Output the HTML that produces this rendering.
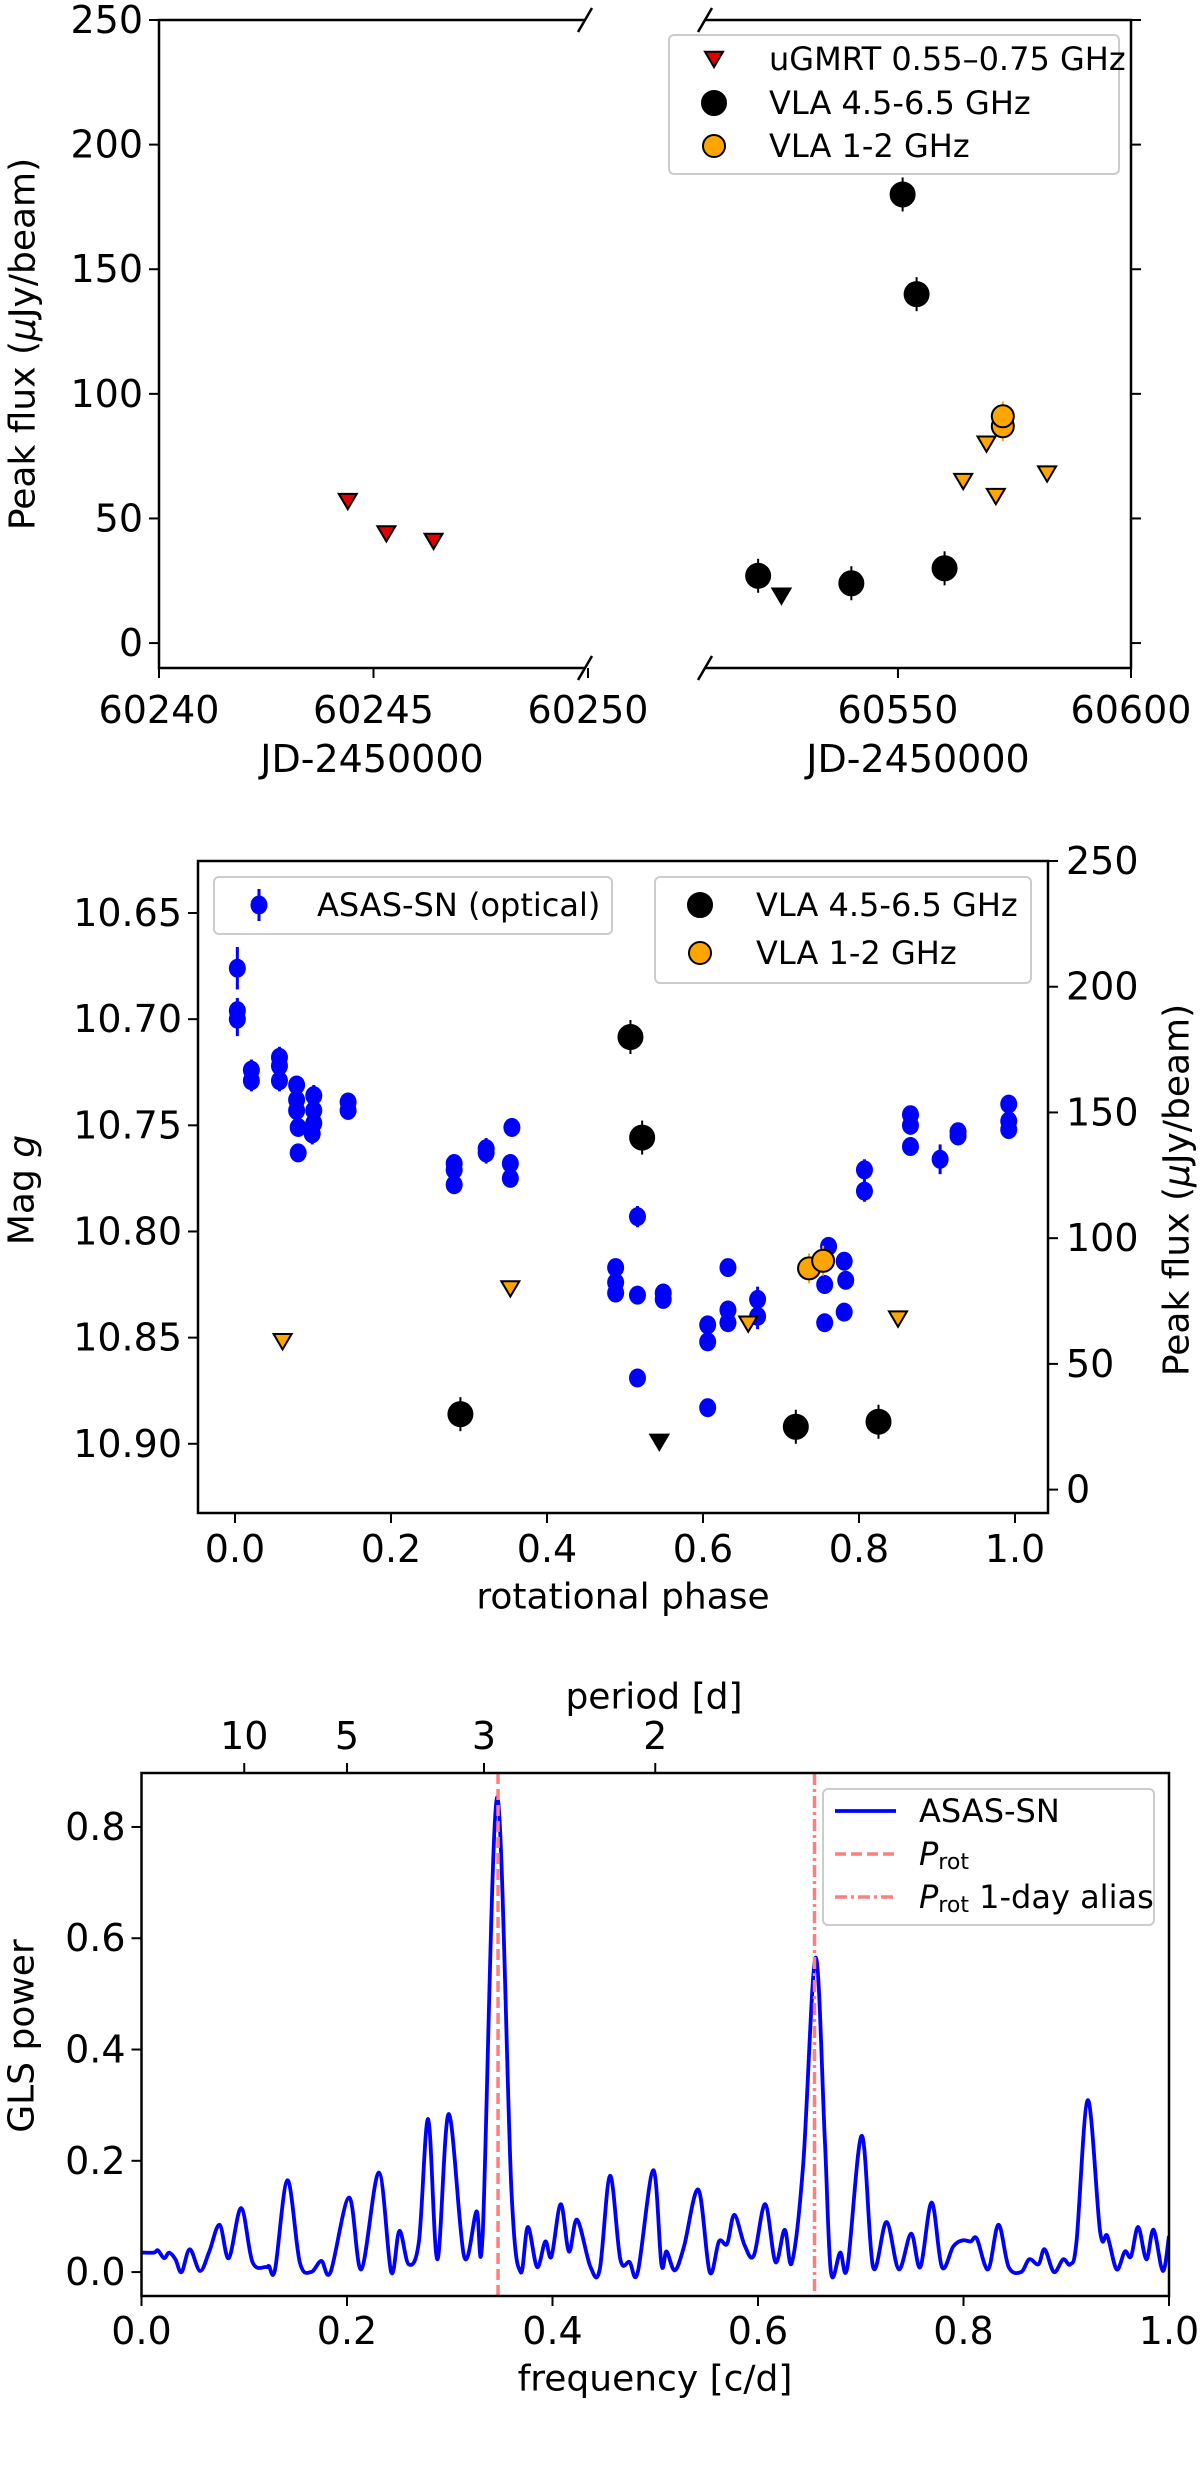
<!DOCTYPE html>
<html><head><meta charset="utf-8">
<style>
html,body{margin:0;padding:0;background:#fff;}
svg{display:block;font-family:"DejaVu Sans","Liberation Sans",sans-serif;}
</style></head>
<body>
<svg id="fig" xmlns="http://www.w3.org/2000/svg" width="1200" height="2467" viewBox="0 0 1200 2467"></svg>
<script>
// ---------- Panel 1 data ----------
const gmrtJD = [60244.4, 60245.3, 60246.4];
const gmrtFlux = [57, 44, 41];
const vlaCJD = [60520, 60540, 60551, 60554, 60560];
const vlaCFlux = [27, 24, 180, 140, 30];
const vlaCLimJD = [60525];
const vlaCLimFlux = [19];
const vlaLJD = [60572.5, 60572.5];
const vlaLFlux = [87, 91];
const vlaLLimJD = [60564, 60569, 60571, 60582];
const vlaLLimFlux = [65, 80, 59, 68];
const p1LeftTicks = [60240, 60245, 60250];
const p1RightTicks = [60550, 60600];
const p1YTicks = [0, 50, 100, 150, 200, 250];

// ---------- Panel 2 data ----------
const asasPhase = [0.003,0.003,0.003,0.021,0.021,0.057,0.057,0.057,0.079,0.079,0.079,0.081,0.081,0.101,0.101,0.101,0.099,0.145,0.145,0.281,0.281,0.281,0.322,0.322,0.355,0.353,0.353,0.488,0.488,0.488,0.516,0.516,0.516,0.549,0.549,0.606,0.606,0.606,0.632,0.632,0.632,0.670,0.670,0.761,0.756,0.756,0.781,0.783,0.781,0.807,0.807,0.866,0.866,0.866,0.904,0.927,0.927,0.992,0.992,0.992];
const asasMag = [10.676,10.696,10.700,10.724,10.729,10.718,10.722,10.729,10.731,10.738,10.743,10.751,10.763,10.736,10.743,10.749,10.754,10.739,10.743,10.768,10.771,10.778,10.761,10.763,10.751,10.768,10.775,10.817,10.824,10.829,10.793,10.830,10.869,10.829,10.832,10.844,10.852,10.883,10.817,10.837,10.843,10.832,10.840,10.807,10.825,10.843,10.814,10.823,10.838,10.771,10.781,10.745,10.750,10.760,10.766,10.753,10.755,10.740,10.748,10.752];
const asasErr = [0.01,0.006,0.008,0.005,0.005,0.005,0.005,0.005,0.004,0.004,0.004,0.004,0.004,0.005,0.005,0.005,0.005,0.004,0.004,0.004,0.004,0.004,0.005,0.005,0.004,0.004,0.004,0.004,0.004,0.004,0.005,0.004,0.004,0.004,0.004,0.004,0.004,0.004,0.004,0.004,0.004,0.006,0.006,0.004,0.004,0.004,0.004,0.004,0.004,0.005,0.005,0.004,0.004,0.004,0.007,0.004,0.004,0.004,0.004,0.004];
const phVlaCPhase = [0.507, 0.522, 0.289, 0.719, 0.825];
const phVlaCFlux = [180, 140, 30, 25, 27];
const phVlaCLimPhase = [0.544];
const phVlaCLimFlux = [19];
const phVlaLPhase = [0.736, 0.754];
const phVlaLFlux = [88, 91];
const phVlaLLimPhase = [0.061, 0.353, 0.658, 0.850];
const phVlaLLimFlux = [59, 80, 66, 68];
const p2XTicks = [0, 0.2, 0.4, 0.6, 0.8, 1.0];
const p2MagTicks = [10.65, 10.70, 10.75, 10.80, 10.85, 10.90];
const p2FluxTicks = [0, 50, 100, 150, 200, 250];

// ---------- Panel 3 data ----------
const glsFreq = [0,.012,.016,.022,.027,.033,.039,.047,.057,.066,.076,.085,.097,.108,.121,.124,.130,.142,.154,.165,.175,.184,.202,.214,.231,.243,.251,.260,.270,.279,.288,.299,.314,.326,.332,.346,.360,.369,.376,.385,.393,.399,.408,.416,.424,.437,.446,.456,.466,.475,.483,.498,.506,.511,.519,.528,.542,.553,.562,.570,.577,.587,.596,.607,.617,.626,.633,.644,.656,.665,.671,.680,.687,.701,.712,.725,.737,.749,.758,.769,.779,.790,.799,.807,.813,.824,.834,.844,.856,.864,.873,.879,.888,.897,.904,.910,.921,.933,.940,.949,.957,.963,.970,.978,.985,.994,1.0];
const glsPower = [.035,.035,.039,.025,.035,.023,0,.041,.002,.037,.085,.025,.115,.018,.009,.011,.005,.165,.018,0,.02,0,.134,.005,.179,0,.074,.014,.055,.275,.023,.284,.028,.109,.065,.853,.148,0,.081,.009,.055,.028,.122,.037,.094,.009,.005,.173,.023,.018,0,.183,.014,.037,.003,.046,.148,0,.055,.051,.103,.048,.030,.122,.018,.076,.017,.194,.565,.240,0,.035,.009,.245,.009,.090,.005,.069,.009,.125,.009,.046,.057,.055,.060,.005,.085,.009,0,.023,.014,.041,0,.023,.014,.055,.309,.072,.065,.005,.037,.028,.081,.023,.076,.002,.065];
const pRot = [0.347];
const pAlias = [0.655];
const p3XTicks = [0, 0.2, 0.4, 0.6, 0.8, 1.0];
const p3YTicks = [0, 0.2, 0.4, 0.6, 0.8];
const periodTicks = [10, 5, 3, 2];

const NS = "http://www.w3.org/2000/svg";
const svg = document.getElementById('fig');
function mk(tag, attrs, parent) {
  const e = document.createElementNS(NS, tag);
  for (const k in attrs) e.setAttribute(k, attrs[k]);
  (parent || svg).appendChild(e);
  return e;
}
function txt(s, x, y, size, anchor, parent, extra) {
  const t = mk('text', Object.assign({x: x, y: y, 'font-size': size, 'text-anchor': anchor || 'middle', 'dominant-baseline': 'central', fill: '#000'}, extra || {}), parent);
  t.textContent = s;
  return t;
}
const FS = 38;
const LW = 2.5;

function circle(g, x, y, r, fill, name) {
  const c = mk('circle', {cx: x, cy: y, r: r, fill: fill, stroke: '#000', 'stroke-width': 2}, g);
  
  
  return c;
}
function tri(g, x, y, s, fill, name) {
  const p = mk('path', {d: `M${x-s},${y-s*0.8} L${x+s},${y-s*0.8} L${x},${y+s*0.9} Z`, fill: fill, stroke: '#000', 'stroke-width': 2, 'stroke-linejoin': 'miter'}, g);
  
  
  return p;
}

// ================= PANEL 1 =================
(function(){
  const g = mk('g', {});
  
  
  const top = 20, bot = 668;
  const yMin = -10, yMax = 250;
  const sy = v => bot - (v - yMin) / (yMax - yMin) * (bot - top);
  const L0 = 159, L1 = 585, Lmin = 60240;
  const sxL = v => L0 + (v - Lmin) / (60250 - Lmin) * (588 - L0);
  const R0 = 705, R1 = 1131, Rmin = 60508.6, Rmax = 60600;
  const sxR = v => R0 + (v - Rmin) / (Rmax - Rmin) * (R1 - R0);
  mk('path', {d: `M${L1},${top} H${L0} V${bot} H${L1}`, fill: 'none', stroke: '#000', 'stroke-width': LW}, g);
  mk('path', {d: `M${R0},${top} H${R1} V${bot} H${R0}`, fill: 'none', stroke: '#000', 'stroke-width': LW}, g);
  [[L1, top],[L1, bot],[R0, top],[R0, bot]].forEach(p => {
    const b = mk('line', {x1: p[0]-7, y1: p[1]+12, x2: p[0]+7, y2: p[1]-12, stroke: '#000', 'stroke-width': 2.5}, g);
    
    
  });
  p1YTicks.forEach(v => {
    const y = sy(v);
    mk('line', {x1: L0 - 10, y1: y, x2: L0, y2: y, stroke: '#000', 'stroke-width': 2}, g);
    mk('line', {x1: R1, y1: y, x2: R1 + 10, y2: y, stroke: '#000', 'stroke-width': 2}, g);
    const t = txt(String(v), L0 - 16, y, FS, 'end', g);
    
    
  });
  p1LeftTicks.forEach(v => {
    const x = sxL(v);
    mk('line', {x1: x, y1: bot, x2: x, y2: bot + 10, stroke: '#000', 'stroke-width': 2}, g);
    const t = txt(String(v), x, 710, FS, 'middle', g);
    
    
  });
  p1RightTicks.forEach(v => {
    const x = sxR(v);
    mk('line', {x1: x, y1: bot, x2: x, y2: bot + 10, stroke: '#000', 'stroke-width': 2}, g);
    const t = txt(String(v), x, 710, FS, 'middle', g);
    
    
  });
  let t = txt('JD-2450000', 372, 759, FS, 'middle', g);
  
  
  t = txt('JD-2450000', 918, 759, FS, 'middle', g);
  
  
  t = mk('text', {x: 0, y: 0, 'font-size': 36, 'text-anchor': 'middle', 'dominant-baseline': 'central', transform: `translate(23,${(top+bot)/2}) rotate(-90)`}, g);
  t.innerHTML = 'Peak flux (<tspan font-style="italic">μ</tspan>Jy/beam)';
  
  
  gmrtJD.forEach((v, i) => tri(g, sxL(v), sy(gmrtFlux[i]), 9, '#e00000', 'ugmrt-upper-limit'));
  vlaCJD.forEach((v, i) => {
    mk('line', {x1: sxR(v), y1: sy(vlaCFlux[i]) - 17, x2: sxR(v), y2: sy(vlaCFlux[i]) + 17, stroke: '#000', 'stroke-width': 2}, g);
    circle(g, sxR(v), sy(vlaCFlux[i]), 12, '#000', 'vla-c-band-point');
  });
  vlaCLimJD.forEach((v, i) => tri(g, sxR(v), sy(vlaCLimFlux[i]), 9, '#000', 'vla-c-band-upper-limit'));
  vlaLLimJD.forEach((v, i) => tri(g, sxR(v), sy(vlaLLimFlux[i]), 9, '#ffa500', 'vla-l-band-upper-limit'));
  vlaLJD.forEach((v, i) => {
    mk('line', {x1: sxR(v), y1: sy(vlaLFlux[i]) - 15, x2: sxR(v), y2: sy(vlaLFlux[i]) + 15, stroke: '#ffa500', 'stroke-width': 2}, g);
    circle(g, sxR(v), sy(vlaLFlux[i]), 11, '#ffa500', 'vla-l-band-point');
  });
  const lg = mk('g', {}, g);
  
  
  mk('rect', {x: 669, y: 35, width: 450, height: 139, rx: 5, fill: '#fff', stroke: '#ccc', 'stroke-width': 2, 'fill-opacity': 0.85}, lg);
  tri(lg, 714, 59, 9, '#e00000', 'legend-marker-ugmrt');
  circle(lg, 714, 103, 12, '#000', 'legend-marker-vla-c');
  circle(lg, 714, 146, 11, '#ffa500', 'legend-marker-vla-l');
  t = txt('uGMRT 0.55–0.75 GHz', 769, 59, 32, 'start', lg);  
  t = txt('VLA 4.5-6.5 GHz', 769, 103, 32, 'start', lg);  
  t = txt('VLA 1-2 GHz', 769, 146, 32, 'start', lg);  
})();

// ================= PANEL 2 =================
(function(){
  const g = mk('g', {});
  
  
  const L = 198, R = 1048, T = 861, B = 1513;
  const sx = v => 235 + v * 780;
  const magTop = 10.6255, magBot = 10.9326;
  const sm = v => T + (v - magTop) / (magBot - magTop) * (B - T);
  const fMin = -9.3, fMax = 250;
  const sf = v => B - (v - fMin) / (fMax - fMin) * (B - T);
  mk('rect', {x: L, y: T, width: R - L, height: B - T, fill: 'none', stroke: '#000', 'stroke-width': LW}, g);
  p2XTicks.forEach(v => {
    mk('line', {x1: sx(v), y1: B, x2: sx(v), y2: B + 10, stroke: '#000', 'stroke-width': 2}, g);
    const t = txt(v.toFixed(1), sx(v), 1549, FS, 'middle', g);
    
    
  });
  p2MagTicks.forEach(v => {
    mk('line', {x1: L - 10, y1: sm(v), x2: L, y2: sm(v), stroke: '#000', 'stroke-width': 2}, g);
    const t = txt(v.toFixed(2), L - 16, sm(v), FS, 'end', g);
    
    
  });
  p2FluxTicks.forEach(v => {
    mk('line', {x1: R, y1: sf(v), x2: R + 10, y2: sf(v), stroke: '#000', 'stroke-width': 2}, g);
    const t = txt(String(v), R + 18, sf(v), FS, 'start', g);
    
    
  });
  let t = txt('rotational phase', 623, 1597, 36, 'middle', g);
  
  
  t = mk('text', {x: 0, y: 0, 'font-size': 36, 'text-anchor': 'middle', 'dominant-baseline': 'central', transform: `translate(22,1190) rotate(-90)`}, g);
  t.innerHTML = 'Mag <tspan font-style="italic">g</tspan>';
  
  
  t = mk('text', {x: 0, y: 0, 'font-size': 36, 'text-anchor': 'middle', 'dominant-baseline': 'central', transform: `translate(1177,1190) rotate(-90)`}, g);
  t.innerHTML = 'Peak flux (<tspan font-style="italic">μ</tspan>Jy/beam)';
  
  
  asasPhase.forEach((p, i) => {
    const x = sx(p), y = sm(asasMag[i]);
    mk('line', {x1: x, y1: sm(asasMag[i] - asasErr[i]), x2: x, y2: sm(asasMag[i] + asasErr[i]), stroke: '#0000ff', 'stroke-width': 3}, g);
    const c = mk('ellipse', {cx: x, cy: y, rx: 8.5, ry: 9.5, fill: '#0000ff'}, g);
    
    
  });
  phVlaCPhase.forEach((p, i) => {
    mk('line', {x1: sx(p), y1: sf(phVlaCFlux[i]) - 17, x2: sx(p), y2: sf(phVlaCFlux[i]) + 17, stroke: '#000', 'stroke-width': 2}, g);
    circle(g, sx(p), sf(phVlaCFlux[i]), 12, '#000', 'vla-c-band-point');
  });
  phVlaCLimPhase.forEach((p, i) => tri(g, sx(p), sf(phVlaCLimFlux[i]), 9, '#000', 'vla-c-band-upper-limit'));
  phVlaLLimPhase.forEach((p, i) => tri(g, sx(p), sf(phVlaLLimFlux[i]), 9, '#ffa500', 'vla-l-band-upper-limit'));
  phVlaLPhase.forEach((p, i) => {
    mk('line', {x1: sx(p), y1: sf(phVlaLFlux[i]) - 15, x2: sx(p), y2: sf(phVlaLFlux[i]) + 15, stroke: '#ffa500', 'stroke-width': 2}, g);
    circle(g, sx(p), sf(phVlaLFlux[i]), 11, '#ffa500', 'vla-l-band-point');
  });
  const la = mk('g', {}, g);
  
  
  mk('rect', {x: 214, y: 877, width: 398, height: 57, rx: 5, fill: '#fff', stroke: '#ccc', 'stroke-width': 2, 'fill-opacity': 0.85}, la);
  mk('line', {x1: 259, y1: 889, x2: 259, y2: 921, stroke: '#0000ff', 'stroke-width': 3}, la);
  mk('ellipse', {cx: 259, cy: 905, rx: 8.5, ry: 9.5, fill: '#0000ff'}, la);
  t = txt('ASAS-SN (optical)', 317, 905, 32, 'start', la);  
  const lb = mk('g', {}, g);
  
  
  mk('rect', {x: 655, y: 877, width: 376, height: 106, rx: 5, fill: '#fff', stroke: '#ccc', 'stroke-width': 2, 'fill-opacity': 0.85}, lb);
  circle(lb, 700, 905, 12, '#000', 'legend-marker-vla-c');
  circle(lb, 700, 953, 11, '#ffa500', 'legend-marker-vla-l');
  t = txt('VLA 4.5-6.5 GHz', 756, 905, 32, 'start', lb);  
  t = txt('VLA 1-2 GHz', 756, 953, 32, 'start', lb);  
})();

// ================= PANEL 3 =================
(function(){
  const g = mk('g', {});
  
  
  const L = 141.5, R = 1169, T = 1773, B = 2296;
  const sx = v => L + v * (R - L);
  const yMin = -0.043, yMax = 0.897;
  const sy = v => B - (v - yMin) / (yMax - yMin) * (B - T);
  const pts = glsFreq.map((f, i) => [sx(f), sy(glsPower[i])]);
  let d = `M${pts[0][0]},${pts[0][1]}`;
  for (let i = 0; i < pts.length - 1; i++) {
    const p0 = pts[Math.max(0, i - 1)], p1 = pts[i], p2 = pts[i + 1], p3 = pts[Math.min(pts.length - 1, i + 2)];
    const c1x = p1[0] + (p2[0] - p0[0]) / 6, c1y = p1[1] + (p2[1] - p0[1]) / 6;
    const c2x = p2[0] - (p3[0] - p1[0]) / 6, c2y = p2[1] - (p3[1] - p1[1]) / 6;
    d += ` C${c1x},${Math.min(c1y, B)} ${c2x},${Math.min(c2y, B)} ${p2[0]},${p2[1]}`;
  }
  const cp = mk('clipPath', {id: 'clip3'}, g);
  mk('rect', {x: L, y: T, width: R - L, height: B - T}, cp);
  const line = mk('path', {d: d, fill: 'none', stroke: '#0000ff', 'stroke-width': 3.8, 'stroke-linejoin': 'round', 'clip-path': 'url(#clip3)'}, g);
  
  
  pRot.forEach(v => {
    const l = mk('line', {x1: sx(v), y1: T, x2: sx(v), y2: B, stroke: '#ff7f7f', 'stroke-width': 3.5, 'stroke-dasharray': '11,5'}, g);
    
    
  });
  pAlias.forEach(v => {
    const l = mk('line', {x1: sx(v), y1: T, x2: sx(v), y2: B, stroke: '#ff7f7f', 'stroke-width': 3.5, 'stroke-dasharray': '12,4,3,4'}, g);
    
    
  });
  mk('rect', {x: L, y: T, width: R - L, height: B - T, fill: 'none', stroke: '#000', 'stroke-width': LW}, g);
  p3XTicks.forEach(v => {
    mk('line', {x1: sx(v), y1: B, x2: sx(v), y2: B + 10, stroke: '#000', 'stroke-width': 2}, g);
    const t = txt(v.toFixed(1), sx(v), 2331, FS, 'middle', g);
    
    
  });
  p3YTicks.forEach(v => {
    mk('line', {x1: L - 10, y1: sy(v), x2: L, y2: sy(v), stroke: '#000', 'stroke-width': 2}, g);
    const t = txt(v.toFixed(1), L - 16, sy(v), FS, 'end', g);
    
    
  });
  periodTicks.forEach(v => {
    const x = sx(1 / v);
    mk('line', {x1: x, y1: T - 10, x2: x, y2: T, stroke: '#000', 'stroke-width': 2}, g);
    const t = txt(String(v), x, 1736, FS, 'middle', g);
    
    
  });
  let t = txt('period [d]', 654, 1697, 36, 'middle', g);
  
  
  t = txt('frequency [c/d]', 655, 2379, 36, 'middle', g);
  
  
  t = txt('GLS power', 0, 0, 36, 'middle', g, {transform: `translate(22,2036) rotate(-90)`});
  
  
  const lg = mk('g', {}, g);
  
  
  mk('rect', {x: 823, y: 1789, width: 331, height: 136, rx: 5, fill: '#fff', stroke: '#ccc', 'stroke-width': 2, 'fill-opacity': 0.85}, lg);
  mk('line', {x1: 835, y1: 1811, x2: 896, y2: 1811, stroke: '#0000ff', 'stroke-width': 3.8}, lg);
  mk('line', {x1: 835, y1: 1854, x2: 896, y2: 1854, stroke: '#ff7f7f', 'stroke-width': 3.5, 'stroke-dasharray': '11,5'}, lg);
  mk('line', {x1: 835, y1: 1897, x2: 896, y2: 1897, stroke: '#ff7f7f', 'stroke-width': 3.5, 'stroke-dasharray': '12,4,3,4'}, lg);
  t = txt('ASAS-SN', 919, 1811, 32, 'start', lg);  
  t = mk('text', {x: 919, y: 1854, 'font-size': 32, 'dominant-baseline': 'central'}, lg);
  t.innerHTML = '<tspan font-style="italic">P</tspan><tspan font-size="22" dy="8">rot</tspan>';
  
  
  t = mk('text', {x: 919, y: 1897, 'font-size': 32, 'dominant-baseline': 'central'}, lg);
  t.innerHTML = '<tspan font-style="italic">P</tspan><tspan font-size="22" dy="8">rot</tspan><tspan dy="-8"> 1-day alias</tspan>';
  
  
})();
</script>
</body></html>
